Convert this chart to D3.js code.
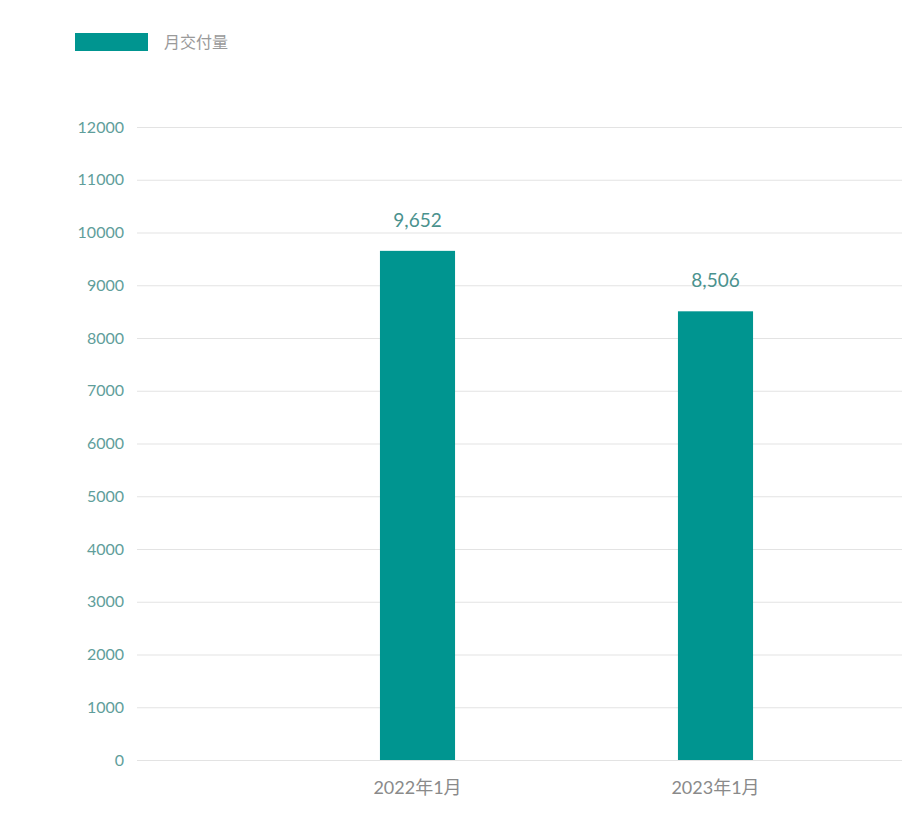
<!DOCTYPE html>
<html lang="zh">
<head>
    <meta charset="UTF-8">
    <title>月交付量</title>
    <script src="https://d3js.org/d3.v7.min.js"></script>
    <style>
        body { margin: 0; padding: 0; background: #fff; }
        svg text { font-family: Lato, "Noto Sans CJK SC", sans-serif; }
        .grid line { stroke: #e3e3e3; stroke-width: 1; }
        .grid .domain { display: none; }
        .y-axis text { fill: #5f9e9b; font-size: 16px; }
        .x-axis text { fill: #8a8a8a; font-size: 18px; }
        .bar-label { fill: #4a928e; font-size: 19px; }
        .legend-text { fill: #9a9a9a; font-size: 16px; }
    </style>
</head>
<body>
<script>
    // données
    var categories = ['2022年1月', '2023年1月'];
    var deliveries = [9652, 8506];
    var yTicks = [0, 1000, 2000, 3000, 4000, 5000, 6000, 7000, 8000, 9000, 10000, 11000, 12000];
    var seriesName = '月交付量';
    var barColor = '#009590';

    var width = 902, height = 813;

    var svg = d3.select('body').append('svg')
        .attr('width', width)
        .attr('height', height);

    var y = d3.scaleLinear().domain([0, 12000]).range([760, 127]);

    var x = d3.scaleBand()
        .domain(categories)
        .range([268.5, 864.5])
        .paddingInner(0.748)
        .paddingOuter(0.374);

    // grille
    svg.append('g')
        .attr('class', 'grid')
        .attr('transform', 'translate(137,0)')
        .call(d3.axisRight(y).tickValues(yTicks).tickSize(width - 137).tickFormat(''));

    // axe y
    var yAxis = svg.append('g')
        .attr('class', 'y-axis')
        .attr('transform', 'translate(124,0)')
        .call(d3.axisLeft(y).tickValues(yTicks).tickSize(0).tickPadding(0).tickFormat(d3.format('d')));
    yAxis.select('.domain').remove();

    // axe x
    var xAxis = svg.append('g')
        .attr('class', 'x-axis')
        .attr('transform', 'translate(0,760)')
        .call(d3.axisBottom(x).tickSize(0).tickPadding(21));
    xAxis.select('.domain').remove();

    // barres
    svg.selectAll('.bar')
        .data(deliveries)
        .enter().append('rect')
        .attr('class', 'bar')
        .attr('x', function(d, i) { return x(categories[i]); })
        .attr('width', x.bandwidth())
        .attr('y', function(d) { return y(d); })
        .attr('height', function(d) { return y(0) - y(d); })
        .attr('fill', barColor);

    // étiquettes
    svg.selectAll('.bar-label')
        .data(deliveries)
        .enter().append('text')
        .attr('class', 'bar-label')
        .attr('x', function(d, i) { return x(categories[i]) + x.bandwidth() / 2; })
        .attr('y', function(d) { return y(d) - 24; })
        .attr('text-anchor', 'middle')
        .text(function(d) { return d3.format(',')(d); });

    // légende
    svg.append('rect')
        .attr('x', 75).attr('y', 33)
        .attr('width', 73).attr('height', 18)
        .attr('fill', barColor);
    svg.append('text')
        .attr('class', 'legend-text')
        .attr('x', 164).attr('y', 48)
        .text(seriesName);
</script>
</body>
</html>
